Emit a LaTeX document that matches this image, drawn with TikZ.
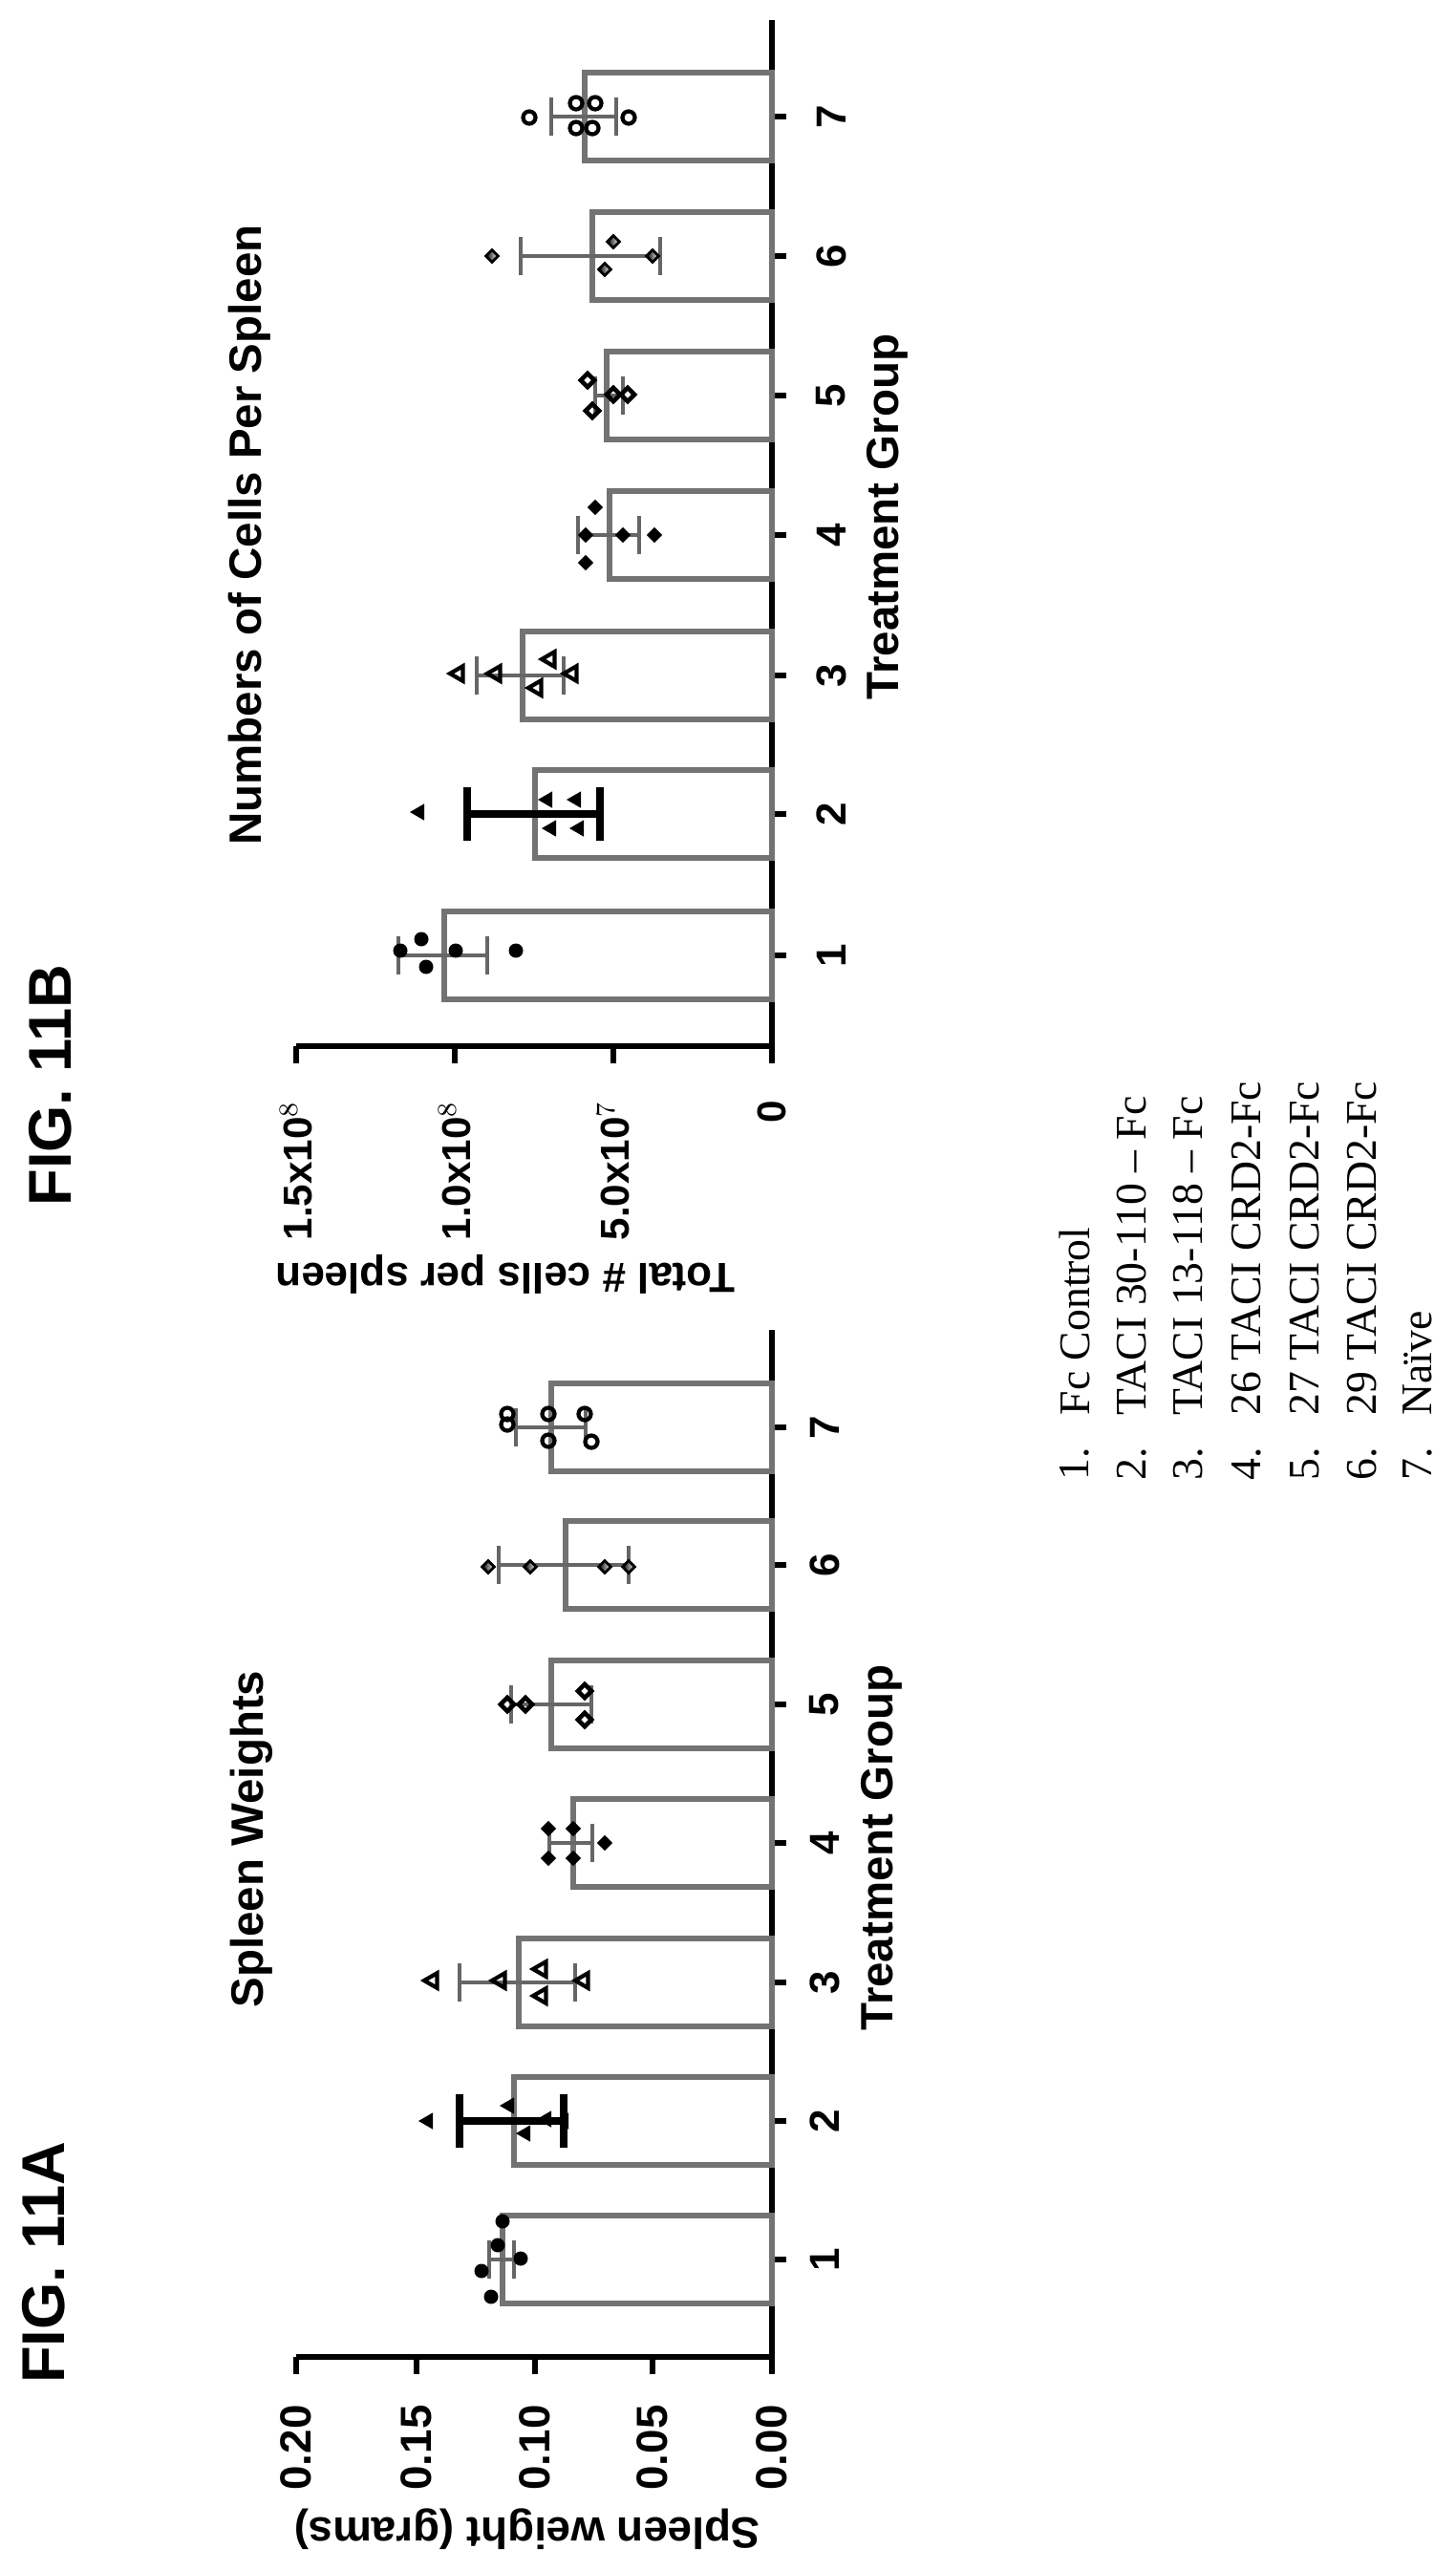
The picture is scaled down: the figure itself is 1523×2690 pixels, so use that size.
\documentclass[tikz,border=0pt]{standalone}
\usepackage{fontspec}
\setmainfont{Liberation Serif}
\setsansfont{Liberation Sans}
\usetikzlibrary{shapes.geometric}
\tikzset{
  axisline/.style={line width=1.6pt, black},
  barbox/.style={line width=1.8pt, black!55},
  errbar/.style={line width=1pt, black!60},
  errbold/.style={line width=2.2pt, black},
  ticklbl/.style={font=\sffamily\bfseries\fontsize{13}{13}\selectfont, rotate=90},
  catlbl/.style={font=\sffamily\bfseries\fontsize{12.5}{12.5}\selectfont, rotate=90},
  titlelbl/.style={font=\sffamily\bfseries\fontsize{13.5}{13.5}\selectfont, rotate=90},
  figlbl/.style={font=\sffamily\bfseries\fontsize{18}{18}\selectfont, rotate=90},
  legendlbl/.style={font=\fontsize{13}{13}\selectfont, rotate=90, anchor=west, inner sep=0pt},
  fcirc/.style={circle, fill=black, inner sep=0pt, minimum size=0.15cm},
  ocirc/.style={circle, draw=black, line width=1.2pt, inner sep=0pt, minimum size=0.13cm},
  ftri/.style={regular polygon, regular polygon sides=3, shape border rotate=90, fill=black, inner sep=0pt, minimum size=0.2cm},
  otri/.style={regular polygon, regular polygon sides=3, shape border rotate=90, draw=black, line width=1.2pt, inner sep=0pt, minimum size=0.18cm},
  fdiam/.style={diamond, fill=black, inner sep=0pt, minimum size=0.17cm},
  odiam/.style={diamond, draw=black, line width=1.3pt, inner sep=0pt, minimum size=0.16cm},
  hdiam/.style={diamond, draw=black, line width=0.8pt, left color=black, right color=white, inner sep=0pt, minimum size=0.14cm}
}
\begin{document}
\begin{tikzpicture}[x=0.01cm, y=-0.01cm]
\useasboundingbox (0,0) rectangle (1523,2690);

% figure labels and titles
\node[figlbl] (figA) at (46,2368) {FIG. 11A};
\node[figlbl] (figB) at (53,1136) {FIG. 11B};
\node[titlelbl] (titA) at (263,1925) {Spleen Weights};
\node[titlelbl] (titB) at (261,560) {Numbers of Cells Per Spleen};

% chart A axes
\draw[axisline] (808,1392) -- (808,2467) -- (310,2467);
\foreach \x/\v in {310/0.20, 436/0.15, 560/0.10, 683/0.05, 808/0.00} {
  \draw[axisline] (\x,2467) -- (\x,2485);
  \node[ticklbl, anchor=east] at (\x,2505) {\v};
}
\foreach \y [count=\i] in {2365,2220,2075,1929,1784,1638,1494} {
  \draw[axisline] (808,\y) -- (823,\y);
  \node[catlbl] at (863,\y) {\i};
}
\node[ticklbl, rotate=90] (ylabA) at (552,2647) {Spleen weight (grams)};
\node[titlelbl] (xlabA) at (923,1934) {Treatment Group};

% chart A bars and error bars
\foreach \y/\v/\lo/\hi in {2365/526/512/538, 2220/538/481/590, 2075/543/481/602,
    1929/600/575/620, 1784/577/535/619, 1638/592/522/658, 1494/577/540/613} {
  \draw[barbox] (808,\y-46) rectangle (\v,\y+46);
}
\foreach \y/\lo/\hi in {2365/512/538, 2075/481/602, 1929/575/620, 1784/535/619, 1638/522/658, 1494/540/613} {
  \draw[errbar] (\lo,\y) -- (\hi,\y) (\lo,\y-20) -- (\lo,\y+20) (\hi,\y-20) -- (\hi,\y+20);
}
\draw[errbold] (481,2220) -- (590,2220) (481,2192) -- (481,2248) (590,2192) -- (590,2248);

% chart A points
\foreach \p in {(514,2404),(504,2377),(521,2350),(526,2325),(545,2364)} \node[fcirc] at \p {};
\foreach \p in {(448,2220),(533,2204),(550,2233),(572,2218),(590,2220)} \node[ftri] at \p {};
\foreach \p in {(453,2073),(524,2073),(567,2061),(567,2089),(611,2073)} \node[otri] at \p {};
\foreach \p in {(574,1914),(574,1945),(600,1914),(600,1945),(633,1929)} \node[fdiam] at \p {};
\foreach \p in {(531,1784),(550,1784),(612,1770),(612,1800)} \node[odiam] at \p {};
\foreach \p in {(511,1640),(555,1640),(633,1640),(658,1640)} \node[hdiam] at \p {};
\foreach \p in {(531,1491),(531,1480),(574,1480),(574,1508),(612,1480),(619,1509)} \node[ocirc] at \p {};

% chart B axes
\draw[axisline] (808,21) -- (808,1095) -- (310,1095);
\foreach \x/\v in {310/{1.5x10$^{8}$}, 476/{1.0x10$^{8}$}, 642/{5.0x10$^{7}$}, 808/0} {
  \draw[axisline] (\x,1095) -- (\x,1113);
  \node[ticklbl, anchor=east, font=\sffamily\bfseries\fontsize{12}{12}\selectfont] at (\x,1140) {\v};
}
\foreach \y [count=\i] in {1000,852,707,560,414,268,122} {
  \draw[axisline] (808,\y) -- (823,\y);
  \node[catlbl] at (870,\y) {\i};
}
\node[ticklbl, rotate=90, font=\sffamily\bfseries\fontsize{12.5}{12.5}\selectfont] (ylabB) at (529,1334) {Total \# cells per spleen};
\node[titlelbl] (xlabB) at (929,541) {Treatment Group};

% chart B bars and error bars
\foreach \y/\v in {1000/465, 852/560, 707/547, 560/638, 414/635, 268/620, 122/612} {
  \draw[barbox] (808,\y-46) rectangle (\v,\y+46);
}
\foreach \y/\lo/\hi in {1000/417/510, 707/499/590, 560/605/669, 414/623/652, 268/545/691, 122/577/645} {
  \draw[errbar] (\lo,\y) -- (\hi,\y) (\lo,\y-20) -- (\lo,\y+20) (\hi,\y-20) -- (\hi,\y+20);
}
\draw[errbold] (489,852) -- (628,852) (489,824) -- (489,880) (628,824) -- (628,880);

% chart B points
\foreach \p in {(419,995),(441,983),(446,1012),(477,995),(540,995)} \node[fcirc] at \p {};
\foreach \p in {(439,850),(573,837),(603,837),(577,867),(606,867)} \node[ftri] at \p {};
\foreach \p in {(480,705),(519,705),(562,720),(576,690),(599,705)} \node[otri] at \p {};
\foreach \p in {(613,589),(613,560),(623,531),(652,560),(685,560)} \node[fdiam] at \p {};
\foreach \p in {(615,398),(620,430),(642,413),(657,413)} \node[odiam] at \p {};
\foreach \p in {(515,268),(633,282),(642,253),(683,268)} \node[hdiam] at \p {};
\foreach \p in {(554,123),(603,108),(603,134),(623,108),(620,134),(658,123)} \node[ocirc] at \p {};

% legend
\foreach \x/\t [count=\i] in {1125/Fc Control, 1185/TACI 30-110 -- Fc, 1244/TACI 13-118 -- Fc,
    1305/26 TACI CRD2-Fc, 1366/27 TACI CRD2-Fc, 1426/29 TACI CRD2-Fc, 1484/Naïve} {
  \node[legendlbl] (num\i) at (\x,1550) {\i.};
  \node[legendlbl] (leg\i) at (\x,1482) {\t};
}
\end{tikzpicture}
\end{document}
